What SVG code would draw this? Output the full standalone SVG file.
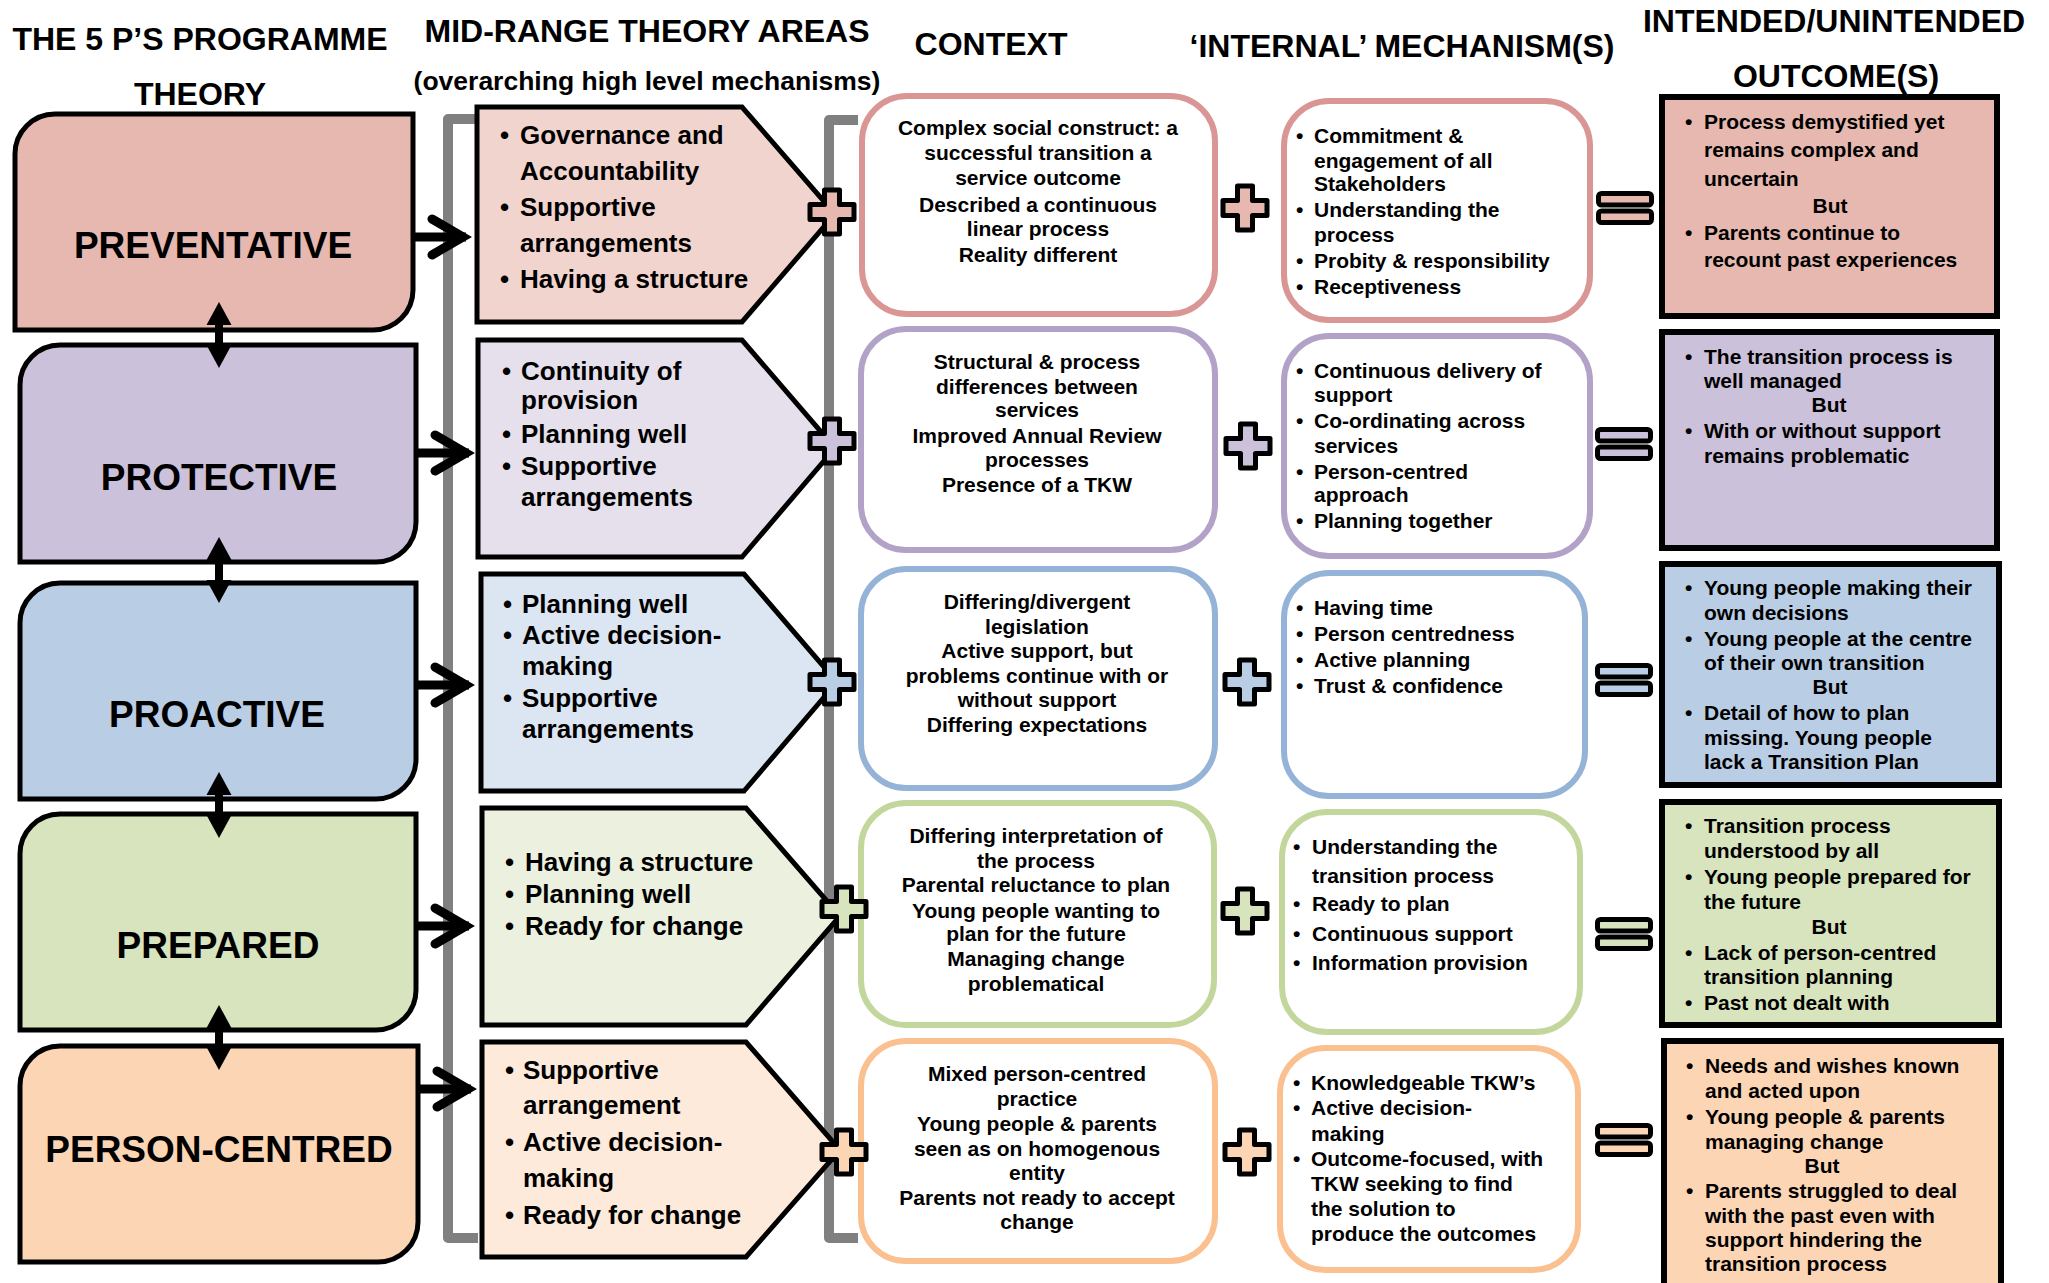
<svg xmlns="http://www.w3.org/2000/svg" xmlns:xlink="http://www.w3.org/1999/xlink" width="2049" height="1283" viewBox="0 0 2049 1283">
<style>
text { font-family: "Liberation Sans", Arial, sans-serif; font-weight: bold; fill: #000; }
.hdr { font-size: 32px; text-anchor: middle; }
.sub { font-size: 26.5px; text-anchor: middle; }
.p5 { font-size: 37px; text-anchor: middle; }
.mr { font-size: 26px; }
.ctx { font-size: 21px; text-anchor: middle; }
.sm { font-size: 21px; }
.but { text-anchor: middle; }
.theory { stroke: #000; stroke-width: 5; }
.pent { stroke: #000; stroke-width: 5; }
.cbox { fill: #fff; stroke-width: 6; }
.out { stroke: #000; stroke-width: 6; }
.sym { stroke: #000; stroke-width: 5; stroke-linejoin: round; }
.bracket { fill: none; stroke: #808080; stroke-width: 10; stroke-linejoin: round; }
.shaft { fill: none; stroke: #000; stroke-width: 9; }
.chev { fill: none; stroke: #000; stroke-width: 9; stroke-linecap: round; stroke-linejoin: miter; }
.dbl { fill: #000; }
</style>
<defs>
<path id="plus" class="sym" d="M-7.5,-22 H7.5 V-7.5 H22 V7.5 H7.5 V22 H-7.5 V7.5 H-22 V-7.5 H-7.5 Z"/>
<g id="eq" class="sym">
<rect x="-26.5" y="-14.5" width="53" height="11.5" rx="3"/>
<rect x="-26.5" y="3" width="53" height="11.5" rx="3"/>
</g>
</defs>
<rect width="2049" height="1283" fill="#fff"/>

<g id="headers">
<text class="hdr" x="200" y="50">THE 5 P’S PROGRAMME</text>
<text class="hdr" x="200" y="105">THEORY</text>
<text class="hdr" x="647" y="42">MID-RANGE THEORY AREAS</text>
<text class="sub" x="647" y="90">(overarching high level mechanisms)</text>
<text class="hdr" x="991" y="55">CONTEXT</text>
<text class="hdr" x="1402" y="57">‘INTERNAL’ MECHANISM(S)</text>
<text class="hdr" x="1834" y="32">INTENDED/UNINTENDED</text>
<text class="hdr" x="1836" y="87">OUTCOME(S)</text>
</g>

<g id="brackets">
<path class="bracket" d="M478,119 H448 V1238 H478"/>
<path class="bracket" d="M858,120 H829 V1238 H858"/>
</g>

<g id="theory-preventative">
<path class="theory" fill="#E6B8AF" d="M55,114 H413 V290 A40,40 0 0 1 373,330 H15 V154 A40,40 0 0 1 55,114 Z"/>
<text class="p5" x="213" y="258" font-size="36">PREVENTATIVE</text>
</g>
<g id="theory-protective">
<path class="theory" fill="#CCC1DA" d="M60,345 H416 V522 A40,40 0 0 1 376,562 H20 V385 A40,40 0 0 1 60,345 Z"/>
<text class="p5" x="219" y="490">PROTECTIVE</text>
</g>
<g id="theory-proactive">
<path class="theory" fill="#B9CDE5" d="M60,583 H416 V759 A40,40 0 0 1 376,799 H20 V623 A40,40 0 0 1 60,583 Z"/>
<text class="p5" x="217" y="727">PROACTIVE</text>
</g>
<g id="theory-prepared">
<path class="theory" fill="#D7E4BD" d="M60,814 H416 V990 A40,40 0 0 1 376,1030 H20 V854 A40,40 0 0 1 60,814 Z"/>
<text class="p5" x="218" y="958">PREPARED</text>
</g>
<g id="theory-person-centred">
<path class="theory" fill="#FCD5B5" d="M60,1046 H418 V1222 A40,40 0 0 1 378,1262 H20 V1086 A40,40 0 0 1 60,1046 Z"/>
<text class="p5" x="219" y="1162">PERSON-CENTRED</text>
</g>

<g id="mid-1">
<polygon class="pent" fill="#F2D4CE" points="477,107 742,107 835,214 742,322 477,322"/>
<text class="mr"><tspan x="500" y="144">•</tspan><tspan x="520" y="144">Governance and</tspan><tspan x="520" y="180">Accountability</tspan><tspan x="500" y="216">•</tspan><tspan x="520" y="216">Supportive</tspan><tspan x="520" y="252">arrangements</tspan><tspan x="500" y="288">•</tspan><tspan x="520" y="288">Having a structure</tspan></text>
</g>
<g id="mid-2">
<polygon class="pent" fill="#E5E0EC" points="478,340 742,340 835,448 742,557 478,557"/>
<text class="mr"><tspan x="502" y="380">•</tspan><tspan x="521" y="380">Continuity of</tspan><tspan x="521" y="409">provision</tspan><tspan x="502" y="443">•</tspan><tspan x="521" y="443">Planning well</tspan><tspan x="502" y="475">•</tspan><tspan x="521" y="475">Supportive</tspan><tspan x="521" y="506">arrangements</tspan></text>
</g>
<g id="mid-3">
<polygon class="pent" fill="#DCE6F2" points="481,574 744,574 837,682 744,791 481,791"/>
<text class="mr"><tspan x="503" y="613">•</tspan><tspan x="522" y="613">Planning well</tspan><tspan x="503" y="644">•</tspan><tspan x="522" y="644">Active decision-</tspan><tspan x="522" y="675">making</tspan><tspan x="503" y="707">•</tspan><tspan x="522" y="707">Supportive</tspan><tspan x="522" y="738">arrangements</tspan></text>
</g>
<g id="mid-4">
<polygon class="pent" fill="#EBF1DE" points="482,808 746,808 840,916 746,1025 482,1025"/>
<text class="mr"><tspan x="505" y="871">•</tspan><tspan x="525" y="871">Having a structure</tspan><tspan x="505" y="903">•</tspan><tspan x="525" y="903">Planning well</tspan><tspan x="505" y="935">•</tspan><tspan x="525" y="935">Ready for change</tspan></text>
</g>
<g id="mid-5">
<polygon class="pent" fill="#FDEADA" points="482,1042 746,1042 840,1150 746,1257 482,1257"/>
<text class="mr"><tspan x="505" y="1079">•</tspan><tspan x="523" y="1079">Supportive</tspan><tspan x="523" y="1114">arrangement</tspan><tspan x="505" y="1151">•</tspan><tspan x="523" y="1151">Active decision-</tspan><tspan x="523" y="1187">making</tspan><tspan x="505" y="1224">•</tspan><tspan x="523" y="1224">Ready for change</tspan></text>
</g>

<g id="context-1">
<rect class="cbox" stroke="#D99694" x="862" y="96" width="353" height="218" rx="45"/>
<text class="ctx"><tspan x="1038" y="135">Complex social construct: a</tspan><tspan x="1038" y="160">successful transition a</tspan><tspan x="1038" y="185">service outcome</tspan><tspan x="1038" y="212">Described a continuous</tspan><tspan x="1038" y="236">linear process</tspan><tspan x="1038" y="262">Reality different</tspan></text>
</g>
<g id="context-2">
<rect class="cbox" stroke="#B3A2C7" x="861" y="329" width="354" height="221" rx="45"/>
<text class="ctx"><tspan x="1037" y="369">Structural &amp; process</tspan><tspan x="1037" y="394">differences between</tspan><tspan x="1037" y="417">services</tspan><tspan x="1037" y="443">Improved Annual Review</tspan><tspan x="1037" y="467">processes</tspan><tspan x="1037" y="492">Presence of a TKW</tspan></text>
</g>
<g id="context-3">
<rect class="cbox" stroke="#95B3D7" x="861" y="569" width="354" height="219" rx="45"/>
<text class="ctx"><tspan x="1037" y="609">Differing/divergent</tspan><tspan x="1037" y="634">legislation</tspan><tspan x="1037" y="658">Active support, but</tspan><tspan x="1037" y="683">problems continue with or</tspan><tspan x="1037" y="707">without support</tspan><tspan x="1037" y="732">Differing expectations</tspan></text>
</g>
<g id="context-4">
<rect class="cbox" stroke="#C3D69B" x="861" y="803" width="353" height="222" rx="45"/>
<text class="ctx"><tspan x="1036" y="843">Differing interpretation of</tspan><tspan x="1036" y="868">the process</tspan><tspan x="1036" y="892">Parental reluctance to plan</tspan><tspan x="1036" y="918">Young people wanting to</tspan><tspan x="1036" y="941">plan for the future</tspan><tspan x="1036" y="966">Managing change</tspan><tspan x="1036" y="991">problematical</tspan></text>
</g>
<g id="context-5">
<rect class="cbox" stroke="#FAC090" x="861" y="1041" width="354" height="220" rx="45"/>
<text class="ctx"><tspan x="1037" y="1081">Mixed person-centred</tspan><tspan x="1037" y="1106">practice</tspan><tspan x="1037" y="1131">Young people &amp; parents</tspan><tspan x="1037" y="1156">seen as on homogenous</tspan><tspan x="1037" y="1180">entity</tspan><tspan x="1037" y="1205">Parents not ready to accept</tspan><tspan x="1037" y="1229">change</tspan></text>
</g>

<g id="mechanism-1">
<rect class="cbox" stroke="#D99694" x="1284" y="101" width="306" height="219" rx="45"/>
<text class="sm"><tspan x="1296" y="143">•</tspan><tspan x="1314" y="143">Commitment &amp;</tspan><tspan x="1314" y="168">engagement of all</tspan><tspan x="1314" y="191">Stakeholders</tspan><tspan x="1296" y="217">•</tspan><tspan x="1314" y="217">Understanding the</tspan><tspan x="1314" y="242">process</tspan><tspan x="1296" y="268">•</tspan><tspan x="1314" y="268">Probity &amp; responsibility</tspan><tspan x="1296" y="294">•</tspan><tspan x="1314" y="294">Receptiveness</tspan></text>
</g>
<g id="mechanism-2">
<rect class="cbox" stroke="#B3A2C7" x="1284" y="336" width="306" height="220" rx="45"/>
<text class="sm"><tspan x="1296" y="378">•</tspan><tspan x="1314" y="378">Continuous delivery of</tspan><tspan x="1314" y="402">support</tspan><tspan x="1296" y="428">•</tspan><tspan x="1314" y="428">Co-ordinating across</tspan><tspan x="1314" y="453">services</tspan><tspan x="1296" y="479">•</tspan><tspan x="1314" y="479">Person-centred</tspan><tspan x="1314" y="502">approach</tspan><tspan x="1296" y="528">•</tspan><tspan x="1314" y="528">Planning together</tspan></text>
</g>
<g id="mechanism-3">
<rect class="cbox" stroke="#95B3D7" x="1284" y="573" width="301" height="223" rx="45"/>
<text class="sm"><tspan x="1296" y="615">•</tspan><tspan x="1314" y="615">Having time</tspan><tspan x="1296" y="641">•</tspan><tspan x="1314" y="641">Person centredness</tspan><tspan x="1296" y="667">•</tspan><tspan x="1314" y="667">Active planning</tspan><tspan x="1296" y="693">•</tspan><tspan x="1314" y="693">Trust &amp; confidence</tspan></text>
</g>
<g id="mechanism-4">
<rect class="cbox" stroke="#C3D69B" x="1282" y="812" width="298" height="220" rx="45"/>
<text class="sm"><tspan x="1293" y="854">•</tspan><tspan x="1312" y="854">Understanding the</tspan><tspan x="1312" y="883">transition process</tspan><tspan x="1293" y="911">•</tspan><tspan x="1312" y="911">Ready to plan</tspan><tspan x="1293" y="941">•</tspan><tspan x="1312" y="941">Continuous support</tspan><tspan x="1293" y="970">•</tspan><tspan x="1312" y="970">Information provision</tspan></text>
</g>
<g id="mechanism-5">
<rect class="cbox" stroke="#FAC090" x="1280" y="1048" width="298" height="222" rx="45"/>
<text class="sm"><tspan x="1293" y="1090">•</tspan><tspan x="1311" y="1090">Knowledgeable TKW’s</tspan><tspan x="1293" y="1115">•</tspan><tspan x="1311" y="1115">Active decision-</tspan><tspan x="1311" y="1141">making</tspan><tspan x="1293" y="1166">•</tspan><tspan x="1311" y="1166">Outcome-focused, with</tspan><tspan x="1311" y="1191">TKW seeking to find</tspan><tspan x="1311" y="1216">the solution to</tspan><tspan x="1311" y="1241">produce the outcomes</tspan></text>
</g>

<g id="outcome-1">
<rect class="out" fill="#E6B8AF" x="1662" y="97" width="335" height="219"/>
<text class="sm"><tspan x="1685" y="129">•</tspan><tspan x="1704" y="129">Process demystified yet</tspan><tspan x="1704" y="157">remains complex and</tspan><tspan x="1704" y="186">uncertain</tspan><tspan class="but" x="1830" y="213">But</tspan><tspan x="1685" y="240">•</tspan><tspan x="1704" y="240">Parents continue to</tspan><tspan x="1704" y="267">recount past experiences</tspan></text>
</g>
<g id="outcome-2">
<rect class="out" fill="#CCC1DA" x="1662" y="332" width="335" height="216"/>
<text class="sm"><tspan x="1685" y="364">•</tspan><tspan x="1704" y="364">The transition process is</tspan><tspan x="1704" y="388">well managed</tspan><tspan class="but" x="1829" y="412">But</tspan><tspan x="1685" y="438">•</tspan><tspan x="1704" y="438">With or without support</tspan><tspan x="1704" y="463">remains problematic</tspan></text>
</g>
<g id="outcome-3">
<rect class="out" fill="#B9CDE5" x="1662" y="564" width="337" height="221"/>
<text class="sm"><tspan x="1685" y="595">•</tspan><tspan x="1704" y="595">Young people making their</tspan><tspan x="1704" y="620">own decisions</tspan><tspan x="1685" y="646">•</tspan><tspan x="1704" y="646">Young people at the centre</tspan><tspan x="1704" y="670">of their own transition</tspan><tspan class="but" x="1830" y="694">But</tspan><tspan x="1685" y="720">•</tspan><tspan x="1704" y="720">Detail of how to plan</tspan><tspan x="1704" y="745">missing. Young people</tspan><tspan x="1704" y="769">lack a Transition Plan</tspan></text>
</g>
<g id="outcome-4">
<rect class="out" fill="#D7E4BD" x="1662" y="802" width="337" height="223"/>
<text class="sm"><tspan x="1685" y="833">•</tspan><tspan x="1704" y="833">Transition process</tspan><tspan x="1704" y="858">understood by all</tspan><tspan x="1685" y="884">•</tspan><tspan x="1704" y="884">Young people prepared for</tspan><tspan x="1704" y="909">the future</tspan><tspan class="but" x="1829" y="934">But</tspan><tspan x="1685" y="960">•</tspan><tspan x="1704" y="960">Lack of person-centred</tspan><tspan x="1704" y="984">transition planning</tspan><tspan x="1685" y="1010">•</tspan><tspan x="1704" y="1010">Past not dealt with</tspan></text>
</g>
<g id="outcome-5">
<rect class="out" fill="#FCD5B5" x="1664" y="1041" width="337" height="262"/>
<text class="sm"><tspan x="1686" y="1073">•</tspan><tspan x="1705" y="1073">Needs and wishes known</tspan><tspan x="1705" y="1098">and acted upon</tspan><tspan x="1686" y="1124">•</tspan><tspan x="1705" y="1124">Young people &amp; parents</tspan><tspan x="1705" y="1149">managing change</tspan><tspan class="but" x="1822" y="1173">But</tspan><tspan x="1686" y="1198">•</tspan><tspan x="1705" y="1198">Parents struggled to deal</tspan><tspan x="1705" y="1223">with the past even with</tspan><tspan x="1705" y="1247">support hindering the</tspan><tspan x="1705" y="1271">transition process</tspan></text>
</g>

<g id="connectors">
<path class="shaft" d="M413,237 H466"/>
<path class="chev" d="M432,219 L463,237 L432,255"/>
<path class="shaft" d="M416,453 H469"/>
<path class="chev" d="M435,435 L466,453 L435,471"/>
<path class="shaft" d="M416,685 H469"/>
<path class="chev" d="M435,667 L466,685 L435,703"/>
<path class="shaft" d="M416,926 H469"/>
<path class="chev" d="M435,908 L466,926 L435,944"/>
<path class="shaft" d="M418,1089 H471"/>
<path class="chev" d="M437,1071 L468,1089 L437,1107"/>
<g class="dbl">
<polygon points="219,302 231.5,325 206.5,325"/><rect x="215" y="322" width="8" height="24"/><polygon points="219,368 231.5,345 206.5,345"/>
<polygon points="219,537 231.5,560 206.5,560"/><rect x="215" y="557" width="8" height="26"/><polygon points="219,603 231.5,580 206.5,580"/>
<polygon points="219,772 231.5,795 206.5,795"/><rect x="215" y="792" width="8" height="26"/><polygon points="219,838 231.5,815 206.5,815"/>
<polygon points="219,1005 231.5,1028 206.5,1028"/><rect x="215" y="1025" width="8" height="25"/><polygon points="219,1070 231.5,1047 206.5,1047"/>
</g>
</g>

<g id="operators">
<use xlink:href="#plus" x="832" y="212" fill="#E6B8AF"/>
<use xlink:href="#plus" x="832" y="441" fill="#CCC1DA"/>
<use xlink:href="#plus" x="832" y="682" fill="#B9CDE5"/>
<use xlink:href="#plus" x="844" y="909" fill="#D7E4BD"/>
<use xlink:href="#plus" x="844" y="1152" fill="#FCD5B5"/>
<use xlink:href="#plus" x="1245" y="208" fill="#E6B8AF"/>
<use xlink:href="#plus" x="1248" y="446" fill="#CCC1DA"/>
<use xlink:href="#plus" x="1247" y="682" fill="#B9CDE5"/>
<use xlink:href="#plus" x="1245" y="911" fill="#D7E4BD"/>
<use xlink:href="#plus" x="1247" y="1152" fill="#FCD5B5"/>
<use xlink:href="#eq" x="1625" y="208" fill="#E6B8AF"/>
<use xlink:href="#eq" x="1624" y="444" fill="#CCC1DA"/>
<use xlink:href="#eq" x="1624" y="680" fill="#B9CDE5"/>
<use xlink:href="#eq" x="1624" y="934" fill="#D7E4BD"/>
<use xlink:href="#eq" x="1624" y="1140" fill="#FCD5B5"/>
</g>
</svg>
